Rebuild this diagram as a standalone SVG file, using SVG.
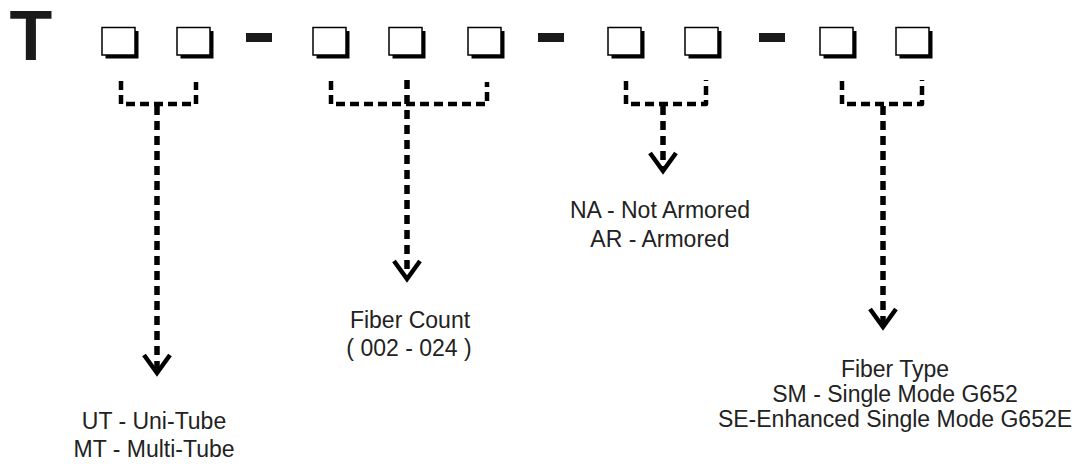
<svg xmlns="http://www.w3.org/2000/svg" width="1092" height="464" viewBox="0 0 1092 464">
<style>
.box{fill:#fff;stroke:#000;stroke-width:1.5}
.shadow{fill:#000}
.dash{fill:#1a1a1a}
.brk{fill:none;stroke:#000;stroke-width:4.5;stroke-dasharray:9 5;stroke-linejoin:round}
.stem{fill:none;stroke:#000;stroke-width:5.5;stroke-dasharray:9 6}
.head{fill:none;stroke:#000;stroke-width:4.5;stroke-linejoin:miter;stroke-miterlimit:10}
.lbl{font-family:"Liberation Sans",Arial,sans-serif;font-size:23px;fill:#222;text-anchor:middle}
</style>
<rect width="1092" height="464" fill="#fff"/>
<g id="title">
<text x="31" y="60" style="font-family:'Liberation Sans',Arial,sans-serif;font-weight:bold;font-size:70px;fill:#1a1a1a;text-anchor:middle">T</text>
</g>
<g id="boxes">
<rect class="shadow" x="105.5" y="31" width="33" height="27.5"/><rect class="box" x="102" y="27.5" width="33" height="27.5"/>
<rect class="shadow" x="180.5" y="31" width="33" height="27.5"/><rect class="box" x="177" y="27.5" width="33" height="27.5"/>
<rect class="dash" x="246" y="33" width="26" height="9"/>
<rect class="shadow" x="316.5" y="31" width="33" height="27.5"/><rect class="box" x="313" y="27.5" width="33" height="27.5"/>
<rect class="shadow" x="392.5" y="31" width="33" height="27.5"/><rect class="box" x="389" y="27.5" width="33" height="27.5"/>
<rect class="shadow" x="471.5" y="31" width="33" height="27.5"/><rect class="box" x="468" y="27.5" width="33" height="27.5"/>
<rect class="dash" x="538" y="33" width="26" height="9"/>
<rect class="shadow" x="611.5" y="31" width="33" height="27.5"/><rect class="box" x="608" y="27.5" width="33" height="27.5"/>
<rect class="shadow" x="688.5" y="31" width="33" height="27.5"/><rect class="box" x="685" y="27.5" width="33" height="27.5"/>
<rect class="dash" x="759" y="33" width="26" height="9"/>
<rect class="shadow" x="823.5" y="31" width="33" height="27.5"/><rect class="box" x="820" y="27.5" width="33" height="27.5"/>
<rect class="shadow" x="899.5" y="31" width="33" height="27.5"/><rect class="box" x="896" y="27.5" width="33" height="27.5"/>
</g>
<g id="connectors">
<path class="brk" d="M121,81 V104 H196 V82"/>
<path class="stem" d="M157,106 V372"/>
<path class="head" d="M144,355 L157,373 L170,355"/>
<path class="brk" d="M331,81 V104 H487 V82"/>
<path class="stem" d="M407,80 V278"/>
<path class="head" d="M394,261 L407,279 L420,261"/>
<path class="brk" d="M626,81 V104 H706 V80"/>
<path class="stem" d="M663,106 V170"/>
<path class="head" d="M650,153 L663,171 L676,153"/>
<path class="brk" d="M842,81 V104 H922 V80"/>
<path class="stem" d="M883,106 V326"/>
<path class="head" d="M870,309 L883,327 L896,309"/>
</g>
<g id="label-tube">
<text class="lbl" x="154" y="429">UT - Uni-Tube</text>
<text class="lbl" x="154" y="457">MT - Multi-Tube</text>
</g>
<g id="label-count">
<text class="lbl" x="410" y="328">Fiber Count</text>
<text class="lbl" x="409" y="356">( 002 - 024 )</text>
</g>
<g id="label-armor">
<text class="lbl" x="660" y="218">NA - Not Armored</text>
<text class="lbl" x="660" y="247">AR - Armored</text>
</g>
<g id="label-type">
<text class="lbl" x="895" y="377">Fiber Type</text>
<text class="lbl" x="895" y="402">SM - Single Mode G652</text>
<text class="lbl" x="895" y="427">SE-Enhanced Single Mode G652E</text>
</g>
</svg>
